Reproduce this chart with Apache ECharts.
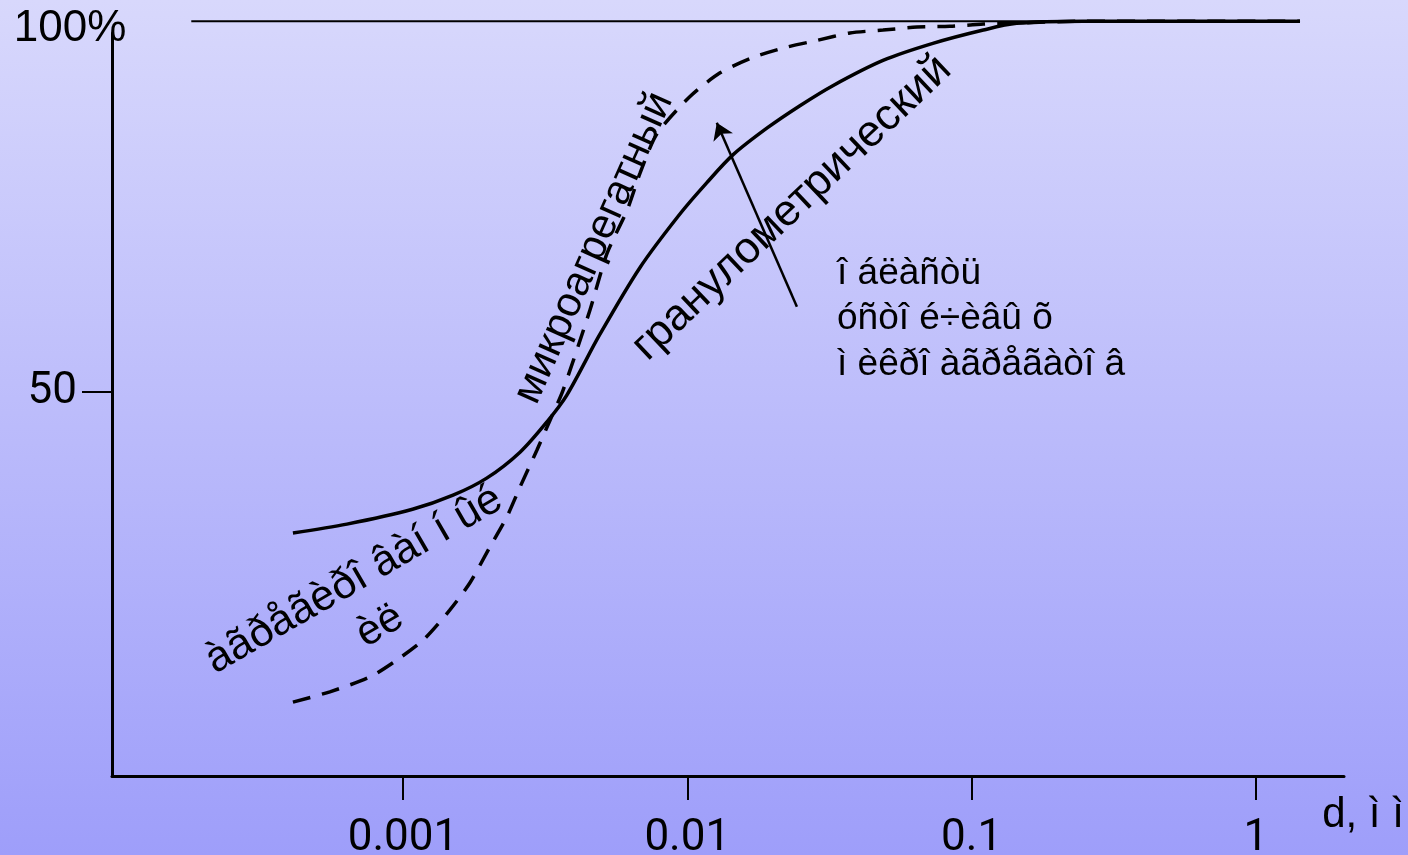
<!DOCTYPE html>
<html>
<head>
<meta charset="utf-8">
<script src="https://cdn.jsdelivr.net/npm/echarts@6/dist/echarts.min.js"></script>
<style>
  html, body { margin: 0; padding: 0; }
  #chart { width: 1408px; height: 855px; }
</style>
</head>
<body>
<div id="chart"></div>
<script>
// particle size d, mm (x is on a log10 scale)
var granD = [0.00041, 0.000635, 0.00108, 0.0015, 0.00197, 0.00258, 0.00321, 0.00377, 0.00493, 0.00682, 0.00942, 0.0117, 0.0145, 0.0191, 0.0249, 0.0325, 0.0488, 0.0731, 0.11, 0.144, 0.247, 1.43]
var granP = [31.0, 32.2, 34.2, 36.1, 38.4, 41.9, 46.0, 49.6, 57.8, 66.8, 74.0, 78.2, 82.0, 85.6, 88.6, 91.3, 94.7, 97.0, 98.8, 99.7, 100, 100]

var microD = [0.00041, 0.000553, 0.000765, 0.000953, 0.00118, 0.00146, 0.00172, 0.00202, 0.00232, 0.00258, 0.00296, 0.00329, 0.00366, 0.00455, 0.00522, 0.00614, 0.00682, 0.00782, 0.0102, 0.013, 0.017, 0.0224, 0.0286, 0.0373, 0.0488, 0.0643, 0.0839, 0.11, 0.137, 0.247, 1.43]
var microP = [8.2, 9.6, 11.6, 13.9, 16.6, 20.6, 24.3, 29.1, 33.2, 37.2, 42.2, 46.2, 50.3, 61.1, 68.7, 74.5, 79.5, 84.8, 89.8, 93.0, 95.1, 96.5, 97.4, 98.4, 98.8, 99.2, 99.3, 99.6, 99.7, 100, 100]

var topD = [0.00018, 1.43]
var topP = [100, 100]

var arrowFrom = [0.0243, 61.5]
var arrowTo = [0.0127, 86.3]

var xTicks = [-3, -2, -1, 0]
var xTickLabels = ['0.001', '0.01', '0.1', '1']
var yTicks = [50]
var yTickLabels = ['50']

function toXY(d, p) {
  return d.map(function (v, i) { return [Math.log10(v), p[i]] })
}

var myChart = echarts.init(document.getElementById('chart'))

var FONT = '"Liberation Sans", Arial, sans-serif'
var textStyle = function (txt, size, align) {
  return { text: txt, font: size + 'px ' + FONT, fill: '#000', align: align || 'center', verticalAlign: 'middle' }
}

var option = {
  animation: false,
  backgroundColor: {
    type: 'linear', x: 0, y: 0, x2: 0, y2: 1,
    colorStops: [{ offset: 0, color: '#d8d8fc' }, { offset: 1, color: '#9e9efa' }]
  },
  grid: { left: 112, right: 64, top: 33, bottom: 79, containLabel: false, outerBoundsMode: 'none' },
  xAxis: {
    type: 'value',
    min: -4.0236,
    max: 0.31,
    axisLine: { onZero: false, lineStyle: { color: '#000', width: 3 } },
    splitLine: { show: false },
    axisTick: { customValues: xTicks, length: 24, lineStyle: { color: '#000', width: 2 } },
    axisLabel: {
      customValues: xTicks,
      margin: 41,
      color: '#000',
      fontSize: 44,
      fontFamily: 'Roboto',
      formatter: function (v) { return xTickLabels[xTicks.indexOf(Math.round(v))] }
    }
  },
  yAxis: {
    type: 'value',
    min: -1.75,
    max: 98.4,
    axisLine: { show: true, onZero: false, lineStyle: { color: '#000', width: 3 } },
    splitLine: { show: false },
    axisTick: { customValues: yTicks, length: 30, lineStyle: { color: '#000', width: 2 } },
    axisLabel: {
      customValues: yTicks,
      margin: 35,
      color: '#000',
      fontSize: 44,
      fontFamily: 'Roboto',
      formatter: function (v) { return yTickLabels[yTicks.indexOf(v)] }
    }
  },
  series: [
    {
      name: 'top', type: 'line', data: toXY(topD, topP), symbol: 'none', clip: false,
      lineStyle: { color: '#000', width: 2 }
    },
    {
      name: 'granulometric', type: 'line', data: toXY(granD, granP), symbol: 'none', smooth: 0.3, clip: false,
      lineStyle: { color: '#000', width: 3.5 }
    },
    {
      name: 'microaggregate', type: 'line', data: toXY(microD, microP), symbol: 'none', smooth: 0.25, clip: false,
      lineStyle: { color: '#000', width: 3.5, type: [18, 12] }
    },
    {
      name: 'arrow', type: 'lines', coordinateSystem: 'cartesian2d',
      symbol: ['none', 'arrow'], symbolSize: 16,
      lineStyle: { color: '#000', width: 2.5, opacity: 1 },
      data: [{ coords: [[Math.log10(arrowFrom[0]), arrowFrom[1]], [Math.log10(arrowTo[0]), arrowTo[1]]] }]
    }
  ],
  graphic: [
    { type: 'text', x: 70, y: 29, style: textStyle('100%', 44) },
    { type: 'text', x: 1363, y: 815, style: textStyle('d, ì ì', 42) },
    { type: 'text', x: 837, y: 274, style: textStyle('î áëàñòü', 37, 'left') },
    { type: 'text', x: 837, y: 319, style: textStyle('óñòî é÷èâû õ', 37, 'left') },
    { type: 'text', x: 837, y: 365, style: textStyle('ì èêðî àãðåãàòî â', 37, 'left') },
    { type: 'text', x: 594, y: 248, rotation: 66 * Math.PI / 180, style: textStyle('микроагрегатный', 42) },
    { type: 'text', x: 792, y: 208, rotation: 43.5 * Math.PI / 180, style: textStyle('гранулометрический', 44) },
    { type: 'text', x: 354, y: 580, rotation: 30 * Math.PI / 180, style: textStyle('àãðåãèðî âàí í ûé', 43) },
    { type: 'text', x: 380, y: 626, rotation: 30 * Math.PI / 180, style: textStyle('èë', 42) }
  ]
}

myChart.setOption(option)
</script>
</body>
</html>
